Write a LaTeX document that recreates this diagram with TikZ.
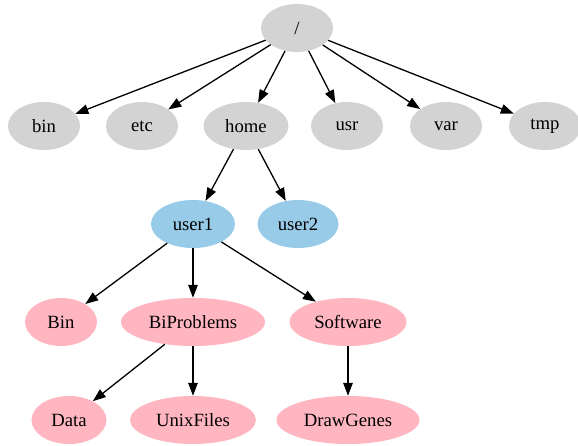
\documentclass[tikz,border=0pt]{standalone}
\usepackage{fontspec}
\setmainfont{Liberation Serif}
\usetikzlibrary{shapes.geometric,positioning,arrows.meta}

\definecolor{dirgray}{RGB}{211,211,211}
\definecolor{userblue}{RGB}{152,203,232}
\definecolor{filepink}{RGB}{255,182,193}

\begin{document}
\begin{tikzpicture}[
        on grid,
        node distance=98pt,
        dir/.style={ellipse, fill=dirgray, minimum width=72pt, minimum height=48pt, inner sep=0pt, font=\fontsize{18.7}{22}\selectfont},
        userdir/.style={dir, fill=userblue},
        filedir/.style={dir, fill=filepink},
        arrow/.style={-{Triangle[length=13pt, width=9.5pt]}, line width=1.3pt}
    ]
        \useasboundingbox (0,0) rectangle (578pt,-445pt);

        \node[dir] (root) at (297pt,-28pt) {/};
        \node[dir, below left=98pt and 253pt of root] (bin) {bin};
        \node[dir, below left=98pt and 155pt of root] (etc) {etc};
        \node[dir, below left=98pt and 51pt of root, minimum width=85pt] (home) {home};
        \node[dir, below right=98pt and 50pt of root] (usr) {usr};
        \node[dir, below right=98pt and 149pt of root] (var) {var};
        \node[dir, below right=98pt and 248pt of root] (tmp) {tmp};

        \node[userdir, below left=98pt and 53pt of home, minimum width=84pt] (user1) {user1};
        \node[userdir, below right=98pt and 52pt of home, minimum width=81pt] (user2) {user2};

        \node[filedir, below left=98pt and 132pt of user1] (Bin) {Bin};
        \node[filedir, below=of user1, minimum width=144pt] (BiProblems) {BiProblems};
        \node[filedir, below right=98pt and 155pt of user1, minimum width=117pt] (Software) {Software};

        \node[filedir, below left=98pt and 124pt of BiProblems, minimum width=75pt] (Data) {Data};
        \node[filedir, below=of BiProblems, minimum width=126pt] (UnixFiles) {UnixFiles};
        \node[filedir, below=of Software, minimum width=143pt] (DrawGenes) {DrawGenes};

        \foreach \d in {bin,etc,home,usr,var,tmp}
            \draw[arrow] (root) -- (\d);
        \draw[arrow] (home) -- (user1);
        \draw[arrow] (home) -- (user2);
        \draw[arrow] (user1) -- (Bin);
        \draw[arrow] (user1) -- (BiProblems);
        \draw[arrow] (user1) -- (Software);
        \draw[arrow] (BiProblems) -- (Data);
        \draw[arrow] (BiProblems) -- (UnixFiles);
        \draw[arrow] (Software) -- (DrawGenes);
    \end{tikzpicture}
\end{document}
